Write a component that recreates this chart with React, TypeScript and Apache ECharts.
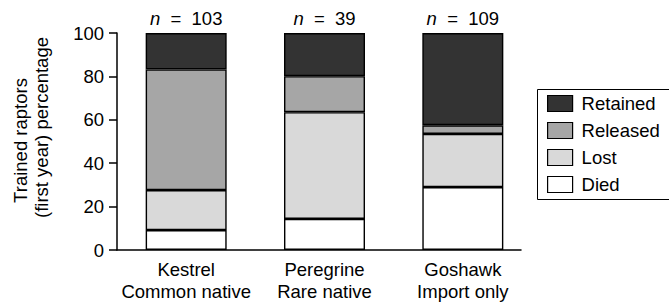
import React, { useEffect, useRef } from "react";
import * as echarts from "echarts";

const categories = ["Kestrel\nCommon native", "Peregrine\nRare native", "Goshawk\nImport only"];
const sampleSizes = [103, 39, 109];
const died = [9.2, 14.3, 29.0];
const lost = [18.4, 49.2, 24.5];
const released = [55.6, 16.6, 4.0];
const retained = [16.8, 19.9, 42.5];
const yTicks = { min: 0, max: 100, interval: 20 };
const yTitleLines = ["Trained raptors", "(first year) percentage"];

const FONT = "Liberation Sans, Arial, Helvetica, sans-serif";
const FS = 18.5;

export default function App() {
  const ref = useRef<HTMLDivElement>(null);
  useEffect(() => {
    if (!ref.current) return;
    const chart = echarts.init(ref.current, undefined, { renderer: "svg" });
    const border = { borderColor: "#000", borderWidth: 1.4 };
    const mk = (name: string, data: number[], color: string, extra: any = {}) => ({
      name,
      type: "bar",
      stack: "total",
      data,
      barWidth: 81,
      itemStyle: { color, ...border },
      xAxisIndex: 0,
      yAxisIndex: 0,
      ...extra,
    });
    chart.setOption({
      animation: false,
      textStyle: { fontFamily: FONT },
      grid: [
        { left: 117, right: 137, top: 33, bottom: 58 },
        { left: 117, right: 148, top: 33, bottom: 58 },
      ],
      xAxis: [
        {
          type: "category",
          gridIndex: 0,
          data: categories,
          axisLine: { show: false },
          axisTick: { show: false },
          axisLabel: {
            color: "#000",
            fontSize: FS,
            lineHeight: 22,
            margin: 8,
            fontFamily: FONT,
            interval: 0,
            hideOverlap: false,
          },
        },
        {
          type: "value",
          gridIndex: 1,
          min: 0,
          max: 1,
          axisLine: { show: true, lineStyle: { color: "#000", width: 1.5 } },
          axisTick: { show: false },
          axisLabel: { show: false },
          splitLine: { show: false },
        },
      ],
      yAxis: [
        {
          type: "value",
          gridIndex: 0,
          min: yTicks.min,
          max: yTicks.max,
          interval: yTicks.interval,
          axisLine: { show: true, lineStyle: { color: "#000", width: 1.5 } },
          axisTick: { show: true, inside: false, length: 8, lineStyle: { color: "#000", width: 1.5 } },
          axisLabel: { color: "#000", fontSize: FS, margin: 13, fontFamily: FONT },
          splitLine: { show: false },
        },
        { type: "value", gridIndex: 1, min: 0, max: 100, show: false },
      ],
      legend: {
        data: ["Retained", "Released", "Lost", "Died"],
        orient: "vertical",
        left: 535,
        top: 87,
        borderWidth: 0,
        padding: [7, 0, 4, 12],
        icon: "rect",
        itemWidth: 25,
        itemHeight: 16,
        itemGap: 8,
        itemStyle: { borderColor: "#000", borderWidth: 1.2 },
        textStyle: { color: "#000", fontSize: FS, fontFamily: FONT, padding: [0, 0, 0, 4] },
      },
      graphic: [
        {
          type: "rect",
          left: 535,
          top: 87,
          shape: { width: 200, height: 110 },
          style: { fill: "none", stroke: "#000", lineWidth: 1 },
          silent: true,
        },
        {
          type: "text",
          x: 20,
          y: 140.5,
          rotation: Math.PI / 2,
          style: {
            text: yTitleLines[0],
            fill: "#000",
            font: `${FS}px ${FONT}`,
            align: "center",
            verticalAlign: "middle",
          },
        },
        {
          type: "text",
          x: 41,
          y: 127.5,
          rotation: Math.PI / 2,
          style: {
            text: yTitleLines[1],
            fill: "#000",
            font: `${FS}px ${FONT}`,
            align: "center",
            verticalAlign: "middle",
          },
        },
      ],
      series: [
        mk("Died", died, "#ffffff"),
        mk("Lost", lost, "#d9d9d9"),
        mk("Released", released, "#a6a6a6"),
        mk("Retained", retained, "#333333", {
          label: {
            show: true,
            position: "top",
            distance: 5,
            color: "#000",
            fontSize: FS,
            fontFamily: FONT,
            formatter: (p: any) => `{i|n}  =  ${sampleSizes[p.dataIndex]}`,
            rich: { i: { fontStyle: "italic", fontSize: FS, color: "#000", fontFamily: FONT } },
          },
        }),
      ],
    });
    return () => chart.dispose();
  }, []);
  return (
    <div
      ref={ref}
      style={{ position: "fixed", left: 0, top: 0, width: 669, height: 308, background: "#fff" }}
    />
  );
}
